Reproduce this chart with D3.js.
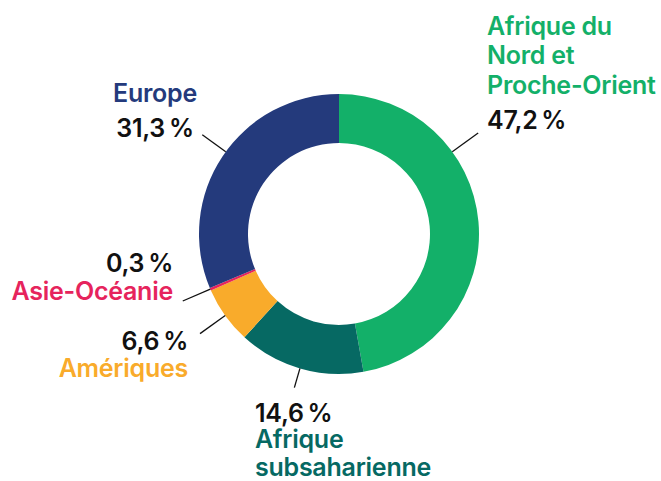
<!DOCTYPE html>
<html><head><meta charset="utf-8">
<script src="https://cdn.jsdelivr.net/npm/d3@7"></script>
<style>
html,body{margin:0;padding:0;background:#fff;}
svg text{font-family:Inter,"Liberation Sans",Arial,sans-serif;font-weight:600;font-size:25px;letter-spacing:-0.25px;}
</style></head>
<body><div id="chart"></div>
<script>
const regions = ["Afrique du Nord et Proche-Orient","Afrique subsaharienne","Amériques","Asie-Océanie","Europe"];
const regionLines = [["Afrique du","Nord et","Proche-Orient"],["Afrique","subsaharienne"],["Amériques"],["Asie-Océanie"],["Europe"]];
const shares = [47.2,14.6,6.6,0.3,31.3];
const shareLabels = ["47,2\u2009%","14,6\u2009%","6,6\u2009%","0,3\u2009%","31,3\u2009%"];
const colors = ["#13b069","#066963","#f9ab2b","#e6245c","#243a7c"];

// label layout (positions only)
const layout = [
  {angle:54, r1:172, x:487, y:[35,64,94,129], anchor:"start", pctFirst:false},
  {angle:null, r1:160, x:255, y:[422,448,476], anchor:"start", pctFirst:true},
  {angle:null, r1:171, x:188, y:[350,377], anchor:"end", pctFirst:true},
  {angle:null, r1:170, x:173, y:[272,300], anchor:"end", pctFirst:true},
  {angle:306, r1:169, x:155, y:[102,137], anchor:"middle", pctFirst:false}
];

const W=661,H=481,cx=339,cy=234,R=140,r=91;
const svg=d3.select("#chart").append("svg").attr("width",W).attr("height",H);
const g=svg.append("g").attr("transform",`translate(${cx},${cy})`);
const pie=d3.pie().sort(null).value(d=>d);
const arcs=pie(shares);
const arc=d3.arc().innerRadius(r).outerRadius(R);
g.selectAll("path.slice").data(arcs).enter().append("path").attr("class","slice")
  .attr("d",arc).attr("fill",(d,i)=>colors[i]);

arcs.forEach((d,i)=>{
  const L=layout[i];
  const a = L.angle==null ? (d.startAngle+d.endAngle)/2 : L.angle*Math.PI/180;
  g.append("line")
    .attr("x1",R*Math.sin(a)).attr("y1",-R*Math.cos(a))
    .attr("x2",L.r1*Math.sin(a)).attr("y2",-L.r1*Math.cos(a))
    .attr("stroke","#111").attr("stroke-width",1.3);
  const lines = L.pctFirst
    ? [{t:shareLabels[i],c:"#111"}].concat(regionLines[i].map(t=>({t,c:colors[i]})))
    : regionLines[i].map(t=>({t,c:colors[i]})).concat([{t:shareLabels[i],c:"#111"}]);
  lines.forEach((ln,k)=>{
    svg.append("text").attr("x",L.x).attr("y",L.y[k])
      .attr("text-anchor",L.anchor).attr("fill",ln.c).text(ln.t);
  });
});
</script></body></html>
